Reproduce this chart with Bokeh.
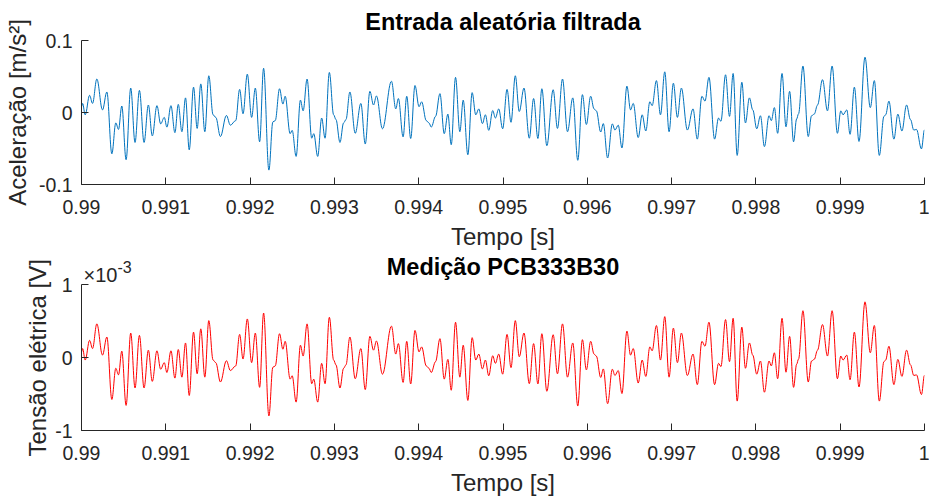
from bokeh.plotting import figure
from bokeh.layouts import column
from bokeh.models import Range1d, FixedTicker, Label, Title
from bokeh.embed import file_html
from bokeh.resources import INLINE

# ---------------- data ----------------
tempo_s = [
    0.990000, 0.990013, 0.990044, 0.990096, 0.990131, 0.990182, 0.990249, 0.990301, 0.990360, 0.990407,
    0.990439, 0.990478, 0.990529, 0.990584, 0.990635, 0.990687, 0.990742, 0.990793, 0.990840, 0.990895,
    0.990939, 0.990982, 0.991013, 0.991061, 0.991108, 0.991148, 0.991191, 0.991234, 0.991278, 0.991329,
    0.991372, 0.991415, 0.991463, 0.991510, 0.991561, 0.991593, 0.991648, 0.991719, 0.991766, 0.991829,
    0.991876, 0.991916, 0.991967, 0.992018, 0.992062, 0.992113, 0.992160, 0.992223, 0.992270, 0.992298,
    0.992349, 0.992389, 0.992416, 0.992475, 0.992499, 0.992546, 0.992597, 0.992629, 0.992676, 0.992731,
    0.992755, 0.992802, 0.992849, 0.992889, 0.992940, 0.992991, 0.993019, 0.993066, 0.993109, 0.993137,
    0.993184, 0.993247, 0.993314, 0.993366, 0.993421, 0.993464, 0.993499, 0.993570, 0.993677, 0.993728,
    0.993759, 0.993815, 0.993858, 0.993905, 0.993956, 0.994004, 0.994035, 0.994090, 0.994122, 0.994149,
    0.994200, 0.994252, 0.994303, 0.994346, 0.994386, 0.994437, 0.994488, 0.994528, 0.994583, 0.994634,
    0.994677, 0.994713, 0.994756, 0.994791, 0.994831, 0.994878, 0.994910, 0.994949, 0.994996, 0.995048,
    0.995095, 0.995146, 0.995193, 0.995249, 0.995312, 0.995363, 0.995414, 0.995461, 0.995520, 0.995595,
    0.995646, 0.995706, 0.995765, 0.995828, 0.995887, 0.995942, 0.995989, 0.996040, 0.996080, 0.996107,
    0.996159, 0.996190, 0.996241, 0.996297, 0.996328, 0.996367, 0.996411, 0.996470, 0.996513, 0.996545,
    0.996604, 0.996651, 0.996694, 0.996742, 0.996769, 0.996820, 0.996868, 0.996919, 0.996970, 0.997021,
    0.997069, 0.997116, 0.997187, 0.997254, 0.997305, 0.997360, 0.997396, 0.997443, 0.997510, 0.997557,
    0.997585, 0.997640, 0.997687, 0.997730, 0.997778, 0.997833, 0.997876, 0.997923, 0.997963, 0.998010,
    0.998054, 0.998101, 0.998156, 0.998183, 0.998219, 0.998258, 0.998310, 0.998357, 0.998400, 0.998447,
    0.998483, 0.998506, 0.998558, 0.998621, 0.998660, 0.998692, 0.998731, 0.998790, 0.998849, 0.998904,
    0.998967, 0.999007, 0.999034, 0.999078, 0.999117, 0.999168, 0.999223, 0.999294, 0.999357, 0.999405,
    0.999464, 0.999519, 0.999539, 0.999578, 0.999637, 0.999684, 0.999732, 0.999787, 0.999834, 0.999873,
    0.999905, 0.999964, 1.000000,
]

aceleracao_ms2 = [
    0.0081, 0.0126, -0.0032, 0.0239, 0.0126, 0.0465, 0.0036, 0.0285, -0.0574, -0.0145,
    -0.0235, 0.0090, -0.0655, 0.0339, -0.0416, 0.0307, -0.0416, 0.0104, -0.0325, 0.0095,
    -0.0158, -0.0068, -0.0203, 0.0095, -0.0280, 0.0113, -0.0267, 0.0203, -0.0519, 0.0352,
    -0.0221, 0.0397, -0.0267, 0.0510, -0.0032, -0.0068, -0.0334, -0.0041, -0.0176, -0.0113,
    0.0321, -0.0018, 0.0533, -0.0068, 0.0339, -0.0407, 0.0614, -0.0800, -0.0131, -0.0113,
    0.0330, 0.0117, 0.0226, -0.0294, -0.0248, -0.0610, 0.0172, 0.0023, 0.0465, -0.0357,
    -0.0294, -0.0610, -0.0077, -0.0357, 0.0556, -0.0032, -0.0099, -0.0416, -0.0145, -0.0099,
    0.0285, -0.0289, 0.0126, -0.0438, 0.0294, 0.0104, 0.0230, -0.0226, 0.0434, 0.0050,
    0.0194, -0.0339, 0.0226, -0.0361, 0.0375, 0.0081, 0.0149, -0.0113, -0.0145, -0.0203,
    -0.0054, 0.0262, -0.0294, -0.0023, -0.0447, 0.0488, -0.0267, 0.0172, -0.0587, 0.0276,
    -0.0032, 0.0050, -0.0154, -0.0032, -0.0248, 0.0027, -0.0077, 0.0050, -0.0226, 0.0321,
    -0.0136, 0.0510, 0.0014, 0.0339, -0.0357, 0.0194, -0.0361, 0.0330, -0.0461, 0.0316,
    -0.0221, 0.0465, -0.0267, 0.0203, -0.0664, 0.0248, -0.0167, 0.0226, 0.0050, 0.0023,
    -0.0271, -0.0154, -0.0632, -0.0158, -0.0244, -0.0176, -0.0492, 0.0366, 0.0036, 0.0126,
    -0.0348, -0.0032, -0.0257, 0.0149, 0.0095, 0.0443, -0.0032, 0.0565, -0.0267, 0.0407,
    -0.0068, 0.0339, -0.0244, 0.0050, -0.0370, 0.0226, 0.0158, 0.0488, -0.0370, -0.0077,
    -0.0122, 0.0524, -0.0054, 0.0542, -0.0596, 0.0420, -0.0145, 0.0203, 0.0036, -0.0226,
    -0.0045, -0.0474, -0.0045, -0.0113, 0.0068, -0.0289, 0.0542, -0.0199, 0.0294, -0.0407,
    -0.0090, -0.0018, 0.0646, -0.0334, -0.0045, -0.0023, 0.0104, 0.0456, 0.0023, 0.0646,
    -0.0289, 0.0023, -0.0032, 0.0036, -0.0303, 0.0352, -0.0402, 0.0768, 0.0068, 0.0443,
    -0.0596, -0.0054, -0.0032, 0.0158, -0.0370, -0.0023, -0.0257, 0.0104, -0.0099, -0.0244,
    -0.0235, -0.0506, -0.0240,
]

# Tensão elétrica in units of 10^-3 V
tensao_mV = [
    0.081, 0.126, -0.032, 0.239, 0.126, 0.465, 0.036, 0.285, -0.574, -0.145,
    -0.235, 0.090, -0.655, 0.339, -0.416, 0.307, -0.416, 0.104, -0.325, 0.095,
    -0.158, -0.068, -0.203, 0.095, -0.280, 0.113, -0.267, 0.203, -0.519, 0.352,
    -0.221, 0.397, -0.267, 0.510, -0.032, -0.068, -0.334, -0.041, -0.176, -0.113,
    0.321, -0.018, 0.533, -0.068, 0.339, -0.407, 0.614, -0.800, -0.131, -0.113,
    0.330, 0.117, 0.226, -0.294, -0.248, -0.610, 0.172, 0.023, 0.465, -0.357,
    -0.294, -0.610, -0.077, -0.357, 0.556, -0.032, -0.099, -0.416, -0.145, -0.099,
    0.285, -0.289, 0.126, -0.438, 0.294, 0.104, 0.230, -0.226, 0.434, 0.050,
    0.194, -0.339, 0.226, -0.361, 0.375, 0.081, 0.149, -0.113, -0.145, -0.203,
    -0.054, 0.262, -0.294, -0.023, -0.447, 0.488, -0.267, 0.172, -0.587, 0.276,
    -0.032, 0.050, -0.154, -0.032, -0.248, 0.027, -0.077, 0.050, -0.226, 0.321,
    -0.136, 0.510, 0.014, 0.339, -0.357, 0.194, -0.361, 0.330, -0.461, 0.316,
    -0.221, 0.465, -0.267, 0.203, -0.664, 0.248, -0.167, 0.226, 0.050, 0.023,
    -0.271, -0.154, -0.632, -0.158, -0.244, -0.176, -0.492, 0.366, 0.036, 0.126,
    -0.348, -0.032, -0.257, 0.149, 0.095, 0.443, -0.032, 0.565, -0.267, 0.407,
    -0.068, 0.339, -0.244, 0.050, -0.370, 0.226, 0.158, 0.488, -0.370, -0.077,
    -0.122, 0.524, -0.054, 0.542, -0.596, 0.420, -0.145, 0.203, 0.036, -0.226,
    -0.045, -0.474, -0.045, -0.113, 0.068, -0.289, 0.542, -0.199, 0.294, -0.407,
    -0.090, -0.018, 0.646, -0.334, -0.045, -0.023, 0.104, 0.456, 0.023, 0.646,
    -0.289, 0.023, -0.032, 0.036, -0.303, 0.352, -0.402, 0.768, 0.068, 0.443,
    -0.596, -0.054, -0.032, 0.158, -0.370, -0.023, -0.257, 0.104, -0.099, -0.244,
    -0.235, -0.506, -0.240,
]

x_ticks = [0.99, 0.991, 0.992, 0.993, 0.994, 0.995, 0.996, 0.997, 0.998, 0.999, 1.0]
x_tick_labels = ["0.99", "0.991", "0.992", "0.993", "0.994", "0.995",
                 "0.996", "0.997", "0.998", "0.999", "1"]
y1_ticks = [-0.1, 0.0, 0.1]
y1_tick_labels = ["-0.1", "0", "0.1"]
y2_ticks = [-1.0, 0.0, 1.0]
y2_tick_labels = ["-1", "0", "1"]

FONT = "Liberation Sans"
AX = "#262626"
TICK_PX = "19.5px"
LABEL_PX = "24px"
TITLE_PX = "23.5px"
W = 929


def smooth_curve(p, xs, ys, color):
    # cubic Bezier between successive read points (horizontal tangents)
    k = 0.3634
    x0, x1 = xs[:-1], xs[1:]
    y0, y1 = ys[:-1], ys[1:]
    cx0 = [a + k * (b - a) for a, b in zip(x0, x1)]
    cx1 = [b - k * (b - a) for a, b in zip(x0, x1)]
    p.bezier(x0=x0, y0=y0, x1=x1, y1=y1, cx0=cx0, cy0=y0, cx1=cx1, cy1=y1,
             line_color=color, line_width=1)


def make_fig(height, btop, bbot, title, yr, yticks, ylabels):
    p = figure(width=W, height=height, output_backend="svg", toolbar_location=None,
               x_range=Range1d(0.99, 1.0), y_range=Range1d(*yr), title=title,
               min_border_left=81, min_border_right=5, min_border_top=btop,
               min_border_bottom=bbot)
    p.background_fill_color = "white"
    p.border_fill_color = "white"
    p.outline_line_color = None
    p.grid.visible = False
    if title:
        p.title.text_font = FONT
        p.title.text_font_size = TITLE_PX
        p.title.text_font_style = "bold"
        p.title.text_color = "#000000"
        p.title.align = "center"
        p.title.standoff = 12
    for ax in (p.xaxis[0], p.yaxis[0]):
        ax.axis_line_color = AX
        ax.major_tick_line_color = AX
        ax.major_tick_in = 7
        ax.major_tick_out = 0
        ax.minor_tick_in = 0
        ax.minor_tick_out = 0
        ax.major_label_text_font = FONT
        ax.major_label_text_font_size = TICK_PX
        ax.major_label_text_color = AX
        ax.axis_label_text_font = FONT
        ax.axis_label_text_font_size = LABEL_PX
        ax.axis_label_text_font_style = "normal"
        ax.axis_label_text_color = AX
    p.xaxis.ticker = FixedTicker(ticks=x_ticks)
    p.xaxis.major_label_overrides = dict(zip(x_ticks, x_tick_labels))
    p.xaxis.axis_label = "Tempo [s]"
    p.xaxis.major_label_standoff = 15
    p.xaxis.axis_label_standoff = 6
    p.yaxis.ticker = FixedTicker(ticks=yticks)
    p.yaxis.major_label_overrides = dict(zip(yticks, ylabels))
    p.yaxis.major_label_standoff = 9
    p.yaxis.axis_label_standoff = 5
    return p


# ---- top panel ----
p1 = make_fig(252, 39, 65, "Entrada aleatória filtrada", (-0.1, 0.1),
              y1_ticks, y1_tick_labels)
p1.yaxis.axis_label = "Aceleração [m/s²]"
smooth_curve(p1, tempo_s, aceleracao_ms2, "#0072BD")

# ---- bottom panel ----
# the frame reaches above y = 1 so that the title and the 10^-3 exponent are
# drawn inside the figure; the y axis line itself spans only -1 .. 1
Y2_TOP = 1.446
p2 = make_fig(246, 0, 65, None, (-1.0, Y2_TOP), y2_ticks, y2_tick_labels)
p2.yaxis.bounds = (-1.0, 1.0)
p2.add_layout(Title(text="Tensão elétrica [V]", align="left", offset=-26,
                    text_font=FONT, text_font_size=LABEL_PX, text_font_style="normal",
                    text_color=AX, standoff=3), "left")
smooth_curve(p2, tempo_s, tensao_mV, "#FF0000")

p2.add_layout(Label(x=0.995, y=1.243, text="Medição PCB333B30",
                    text_font=FONT, text_font_size=TITLE_PX, text_font_style="bold",
                    text_color="#000000", text_align="center", text_baseline="middle"))
p2.add_layout(Label(x=0.99, y=1.135, x_offset=2, text="×10",
                    text_font=FONT, text_font_size="20px", text_color=AX,
                    text_baseline="alphabetic"))
p2.add_layout(Label(x=0.99, y=1.245, x_offset=36, text="-3",
                    text_font=FONT, text_font_size="16px", text_color=AX,
                    text_baseline="alphabetic"))

layout = column(p1, p2, spacing=0)
open("out.html", "w", encoding="utf-8").write(file_html(layout, INLINE))
